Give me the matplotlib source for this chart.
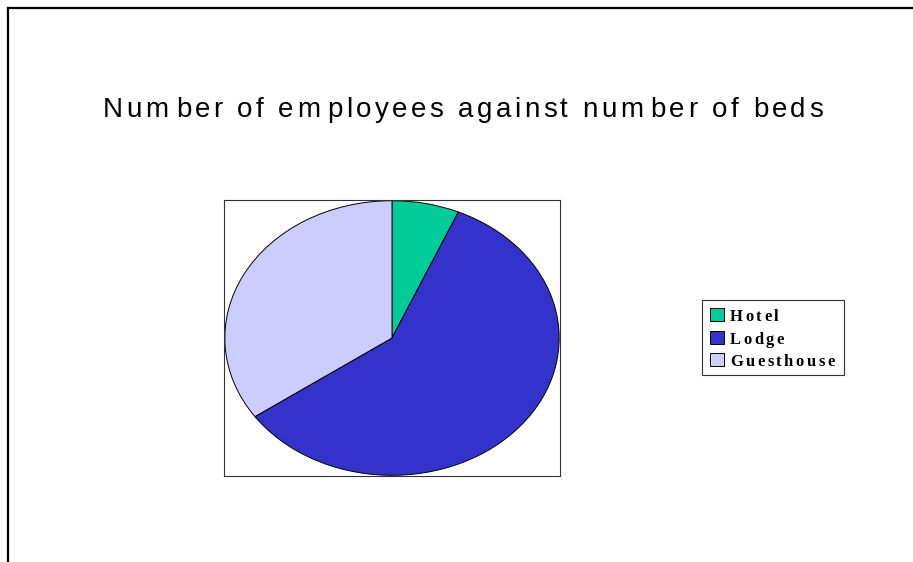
import matplotlib
matplotlib.use("Agg")
import matplotlib.pyplot as plt
from matplotlib.font_manager import FontProperties
from matplotlib.patches import Rectangle
from matplotlib.lines import Line2D

W, H = 913, 562
DPI = 100

title = "Number of employees against number of beds"
categories = ["Hotel", "Lodge", "Guesthouse"]
shares = [6.5, 58.8, 34.7]
colors = ["#00CC99", "#3333CC", "#CCCCFF"]


def fx(px):
    return px / W


def fy(py):
    # pixel rows are counted from the top
    return 1 - py / H


def advances(text, prop, renderer):
    base = renderer.get_text_width_height_descent("HH", prop, ismath=False)[0]
    out = []
    for c in text:
        w = renderer.get_text_width_height_descent("H" + c + "H", prop, ismath=False)[0]
        out.append(w - base)
    return out


def spaced_text(fig, text, x0, baseline, prop, renderer, track=None, x1=None, extra=None):
    adv = advances(text, prop, renderer)
    extra = extra or {}
    gaps = [extra.get(c, 0) for c in text[:-1]]
    if track is None:
        # stretch so the string spans x0..x1
        track = (x1 - x0 - sum(adv) - sum(gaps)) / (len(text) - 1)
    x = x0
    for i, (c, a) in enumerate(zip(text, adv)):
        if c != " ":
            fig.text(fx(x), fy(baseline), c, fontproperties=prop,
                     ha="left", va="baseline", color="black")
        x += a + track + (gaps[i] if i < len(gaps) else 0)


fig = plt.figure(figsize=(W / DPI, H / DPI), dpi=DPI)
renderer = fig.canvas.get_renderer()

# outer frame: only top and left edges show
fig.add_artist(Line2D([fx(8), 1], [fy(8), fy(8)], transform=fig.transFigure,
                      color="black", lw=1.6))
fig.add_artist(Line2D([fx(8), fx(8)], [fy(8), 0], transform=fig.transFigure,
                      color="black", lw=1.6))

# title (old renderer leaves a wider gap after each "m")
title_prop = FontProperties(family="Liberation Sans", size=20)
spaced_text(fig, title, 103, 117, title_prop, renderer, x1=823, extra={"m": 4})

# pie, stretched to fill the plot area box
ax = fig.add_axes([fx(224), fy(476), fx(560) - fx(224), fy(200) - fy(476)])
ax.pie(shares, colors=colors, startangle=90, counterclock=False,
       wedgeprops=dict(edgecolor="black", linewidth=0.7))
ax.set_aspect("auto")
ax.set_xlim(-1.005, 1.005)
ax.set_ylim(-1.005, 1.005)
ax.set_frame_on(True)
for s in ax.spines.values():
    s.set_color("#333333")
    s.set_linewidth(0.8)

# legend drawn by hand to get the spaced bold serif labels
fig.add_artist(Rectangle((fx(702), fy(375)), fx(844) - fx(702), fy(300) - fy(375),
                         transform=fig.transFigure, facecolor="white",
                         edgecolor="#333333", lw=0.8))
leg_prop = FontProperties(family="Liberation Serif", weight="bold", size=12)
baselines = [321, 343.5, 366]
for name, col, b in zip(categories, colors, baselines):
    fig.add_artist(Rectangle((fx(710), fy(b)), fx(724) - fx(710), fy(b - 13) - fy(b),
                             transform=fig.transFigure, facecolor=col,
                             edgecolor="black", lw=0.7))
    spaced_text(fig, name, 730, b, leg_prop, renderer, track=2.5)

fig.savefig("out.png", dpi=DPI)
plt.close(fig)
